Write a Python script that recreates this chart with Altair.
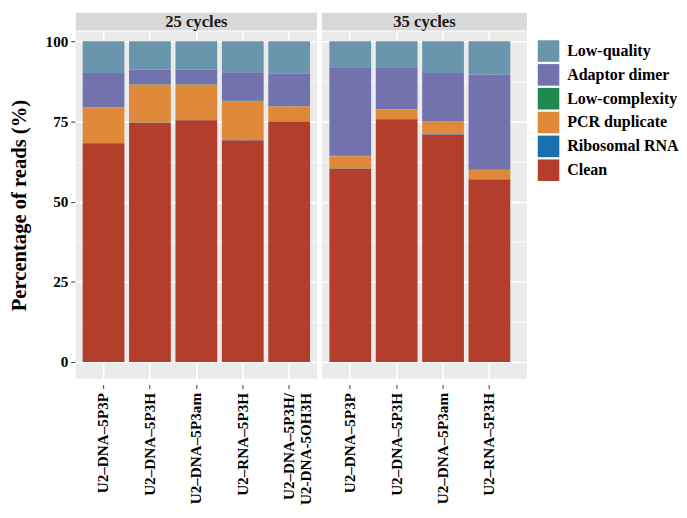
import altair as alt
import pandas as pd

FONT = "Liberation Serif"

panels = ["25 cycles", "35 cycles"]
samples_25 = ["U2–DNA–5P3P", "U2–DNA–5P3H", "U2–DNA–5P3am", "U2–RNA–5P3H",
              "U2–DNA–5P3H/\nU2-DNA-5OH3H"]
samples_35 = ["U2–DNA–5P3P", "U2–DNA–5P3H", "U2–DNA–5P3am", "U2–RNA–5P3H"]

# legend order (top to bottom)
categories = ["Low-quality", "Adaptor dimer", "Low-complexity",
              "PCR duplicate", "Ribosomal RNA", "Clean"]
colors = ["#6995AD", "#7272AF", "#1F8A50", "#E0893A", "#1C6FAF", "#B43E2C"]

# values (%) per sample, 25 cycles
clean_25 = [68.0, 74.5, 75.4, 69.1, 75.0]
ribo_25 = [0.2, 0.1, 0.1, 0.2, 0.1]
pcr_25 = [11.2, 11.9, 11.0, 12.1, 4.6]
lowcx_25 = [0.1, 0.1, 0.1, 0.1, 0.1]
adaptor_25 = [10.6, 4.6, 4.6, 8.9, 10.1]
lowq_25 = [9.9, 8.8, 8.8, 9.6, 10.1]

# values (%) per sample, 35 cycles
clean_35 = [60.2, 75.7, 70.9, 56.9]
ribo_35 = [0.1, 0.1, 0.1, 0.1]
pcr_35 = [3.9, 3.0, 3.9, 2.9]
lowcx_35 = [0.1, 0.1, 0.1, 0.1]
adaptor_35 = [27.6, 12.8, 15.1, 29.7]
lowq_35 = [8.1, 8.3, 9.9, 10.3]


def build(samples, series):
    rows = []
    for cat, vals in series.items():
        for s, v in zip(samples, vals):
            rows.append({"sample": s, "category": cat, "value": v,
                         "ord": 5 - categories.index(cat)})
    return pd.DataFrame(rows)


df25 = build(samples_25, {"Low-quality": lowq_25, "Adaptor dimer": adaptor_25,
                          "Low-complexity": lowcx_25, "PCR duplicate": pcr_25,
                          "Ribosomal RNA": ribo_25, "Clean": clean_25})
df35 = build(samples_35, {"Low-quality": lowq_35, "Adaptor dimer": adaptor_35,
                          "Low-complexity": lowcx_35, "PCR duplicate": pcr_35,
                          "Ribosomal RNA": ribo_35, "Clean": clean_35})

PLOT_H = 354
STRIP_H = 18

major = "datum.value % 25 === 0"
yvals = [0, 12.5, 25, 37.5, 50, 62.5, 75, 87.5, 100]


def panel(df, samples, width, title, first, align=0.5, po=0.15):
    if first:
        yaxis = alt.Axis(
            title="Percentage of reads (%)",
            values=yvals,
            labelExpr=f"{major} ? datum.label : ''",
            tickOpacity={"condition": {"test": major, "value": 1}, "value": 0},
            gridWidth={"condition": {"test": major, "value": 1.6}, "value": 0.8},
            domain=False, tickSize=4, offset=1, labelPadding=3,
            titlePadding=16,
        )
    else:
        yaxis = alt.Axis(
            title=None, labels=False, ticks=False, domain=False,
            values=yvals,
            gridWidth={"condition": {"test": major, "value": 1.6}, "value": 0.8},
        )
    bars = alt.Chart(df).mark_bar().encode(
        x=alt.X("sample:N", sort=samples,
                scale=alt.Scale(domain=samples, paddingInner=0.1,
                                paddingOuter=po, align=align),
                axis=alt.Axis(title=None, labelAngle=270, labelAlign="right",
                              labelBaseline="middle",
                              labelExpr="split(datum.label, '\\n')",
                              grid=True, gridWidth=1.6, domain=False,
                              offset=6, tickSize=4, labelPadding=4)),
        y=alt.Y("value:Q", stack="zero",
                scale=alt.Scale(domain=[-5.2, 103.1], nice=False, zero=False),
                axis=yaxis),
        color=alt.Color("category:N",
                        scale=alt.Scale(domain=categories, range=colors),
                        legend=alt.Legend(title=None, orient="none",
                                          legendX=471, legendY=9)),
        order=alt.Order("ord:Q", sort="ascending"),
    )
    sdata = alt.Data(values=[{"panel": title}])
    strip = alt.Chart(sdata).mark_rect(color="#D9D9D9").encode(
        x=alt.value(0), x2=alt.value(width),
        y=alt.value(-STRIP_H - 1), y2=alt.value(-1))
    stext = alt.Chart(sdata).mark_text(
        font=FONT, fontWeight="bold", fontSize=17, color="#1A1A1A",
        baseline="middle", align="center").encode(
        x=alt.value(width / 2), y=alt.value(-STRIP_H / 2 - 1),
        text="panel:N")
    return alt.layer(strip, stext, bars).properties(width=width, height=PLOT_H)


left = panel(df25, samples_25, 246, panels[0], True)
right = panel(df35, samples_35, 209, panels[1], False, align=0.31, po=0.26)

chart = alt.hconcat(left, right, spacing=5).properties(
    padding={"left": 0, "top": 0, "right": 0, "bottom": 0}
).configure_view(
    fill="#EBEBEB", stroke=None
).configure_axis(
    labelFont=FONT, labelFontWeight="bold", labelFontSize=15.5, labelColor="#000000",
    titleFont=FONT, titleFontWeight="bold", titleFontSize=21, titleColor="#000000",
    tickColor="#333333", tickWidth=1, gridColor="#FFFFFF",
).configure_legend(
    labelFont=FONT, labelFontWeight="bold", labelFontSize=16.3, labelColor="#000000",
    symbolType="square", symbolSize=484, symbolStrokeWidth=0, symbolOpacity=1,
    rowPadding=2.3, labelOffset=8,
)

chart.save("out.html", embed_options={"renderer": "svg", "actions": False})
